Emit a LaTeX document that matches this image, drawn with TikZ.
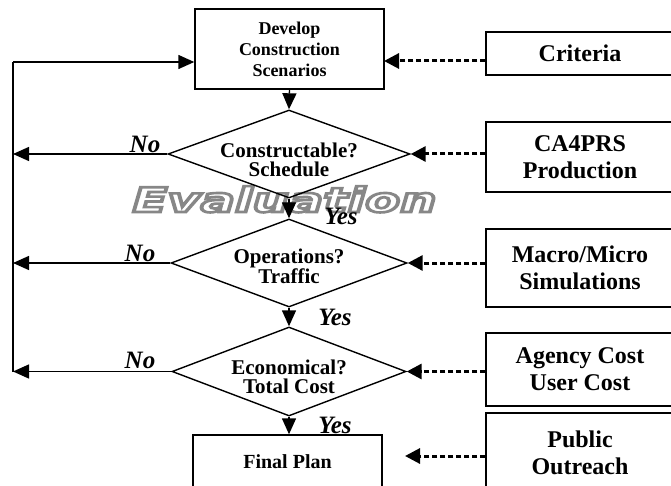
\documentclass[tikz,border=0pt]{standalone}
\usepackage{fontspec}
\setmainfont{Liberation Serif}
\newfontfamily\wmfont{DejaVu Sans}
\usetikzlibrary{shapes.geometric,arrows.meta,calc}
\newcommand{\outlinedtext}[1]{\special{pdf:literal direct 2 Tr 2.6 w 0.53 0.53 0.53 RG 1 1 1 rg}#1\special{pdf:literal direct 0 Tr 1 w 0 0 0 RG 0 0 0 rg}}
\begin{document}
\begin{tikzpicture}[x=1pt,y=-1pt,
  box/.style={draw, line width=1.4pt, inner sep=0pt, align=center, font=\bfseries},
  dia/.style={draw, diamond, line width=1.4pt, inner sep=0pt},
  diatext/.style={align=center, inner sep=0pt, font=\bfseries\fontsize{21}{19}\selectfont},
  sidebox/.style={box, minimum width=188pt, font=\bfseries\fontsize{24}{27}\selectfont},
  flow/.style={line width=1.4pt, -{Triangle[length=16pt,width=14pt]}},
  loopline/.style={line width=1.4pt},
  feed/.style={line width=3pt, dash pattern=on 5pt off 3pt, -{Triangle[length=15pt,width=15pt]}},
  answer/.style={anchor=base, inner sep=0pt, font=\bfseries\itshape\fontsize{25}{25}\selectfont},
  wm/.style={anchor=base, inner sep=0pt, font=\wmfont\bfseries\itshape\fontsize{34}{34}\selectfont}
]
\useasboundingbox (0,0) rectangle (671,486);
\clip (0,0) rectangle (671,486);

% watermark
\node[wm] (wm) at (284.5,212) {\scalebox{1.5}[1]{\outlinedtext{Evaluation}}};

% main column
\node[box, minimum width=189pt, minimum height=80pt, font=\bfseries\fontsize{18}{21}\selectfont]
  (top) at (289.5,49) {Develop\\Construction\\Scenarios};
\node[dia, minimum width=242pt, minimum height=88pt] (d1) at (289,154) {};
\node[diatext] (t1) at (289,160) {Constructable?\\Schedule};
\node[dia, minimum width=236pt, minimum height=88pt] (d2) at (289,263) {};
\node[diatext] (t2) at (289,266) {Operations?\\Traffic};
\node[dia, minimum width=234pt, minimum height=89pt] (d3) at (289,371.5) {};
\node[diatext] (t3) at (289,377) {Economical?\\Total Cost};
\node[box, minimum width=189pt, minimum height=54pt, font=\bfseries\fontsize{20}{22}\selectfont]
  (final) at (287.5,462) {Final Plan};

% side boxes
\node[sidebox, minimum height=43pt] (rc1) at (580,53.5) {Criteria};
\node[sidebox, minimum height=70pt] (rc2) at (580,157) {CA4PRS\\Production};
\node[sidebox, minimum height=78pt] (rc3) at (580,268) {Macro/Micro\\Simulations};
\node[sidebox, minimum height=73pt] (rc4) at (580,369.5) {Agency Cost\\User Cost};
\node[sidebox, minimum height=79pt] (rc5) at (580,452.5) {Public\\Outreach};

% flow arrows
\draw[flow] (top.south) -- (d1.north);
\draw[flow] (d1.south) -- (d2.north);
\draw[flow] (d2.south) -- (d3.north);
\draw[flow] (d3.south) -- (final.north -| d3.south);

% loop back
\coordinate (lt) at (13,62);
\coordinate (lb) at (13,372);
\draw[loopline] (lb) -- (lt);
\draw[flow] (lt) -- (lt -| top.west);
\draw[flow] (d1.west) -- (d1.west -| lt);
\draw[flow] (d2.west) -- (d2.west -| lt);
\draw[flow] (d3.west) -- (d3.west -| lt);

% feeds
\coordinate (crin) at (384,61);
\coordinate (fpin) at (405,456);
\draw[feed] (rc1.west |- crin) -- (crin);
\draw[feed] (rc2.west |- d1.east) -- (d1.east);
\draw[feed] (rc3.west |- d2.east) -- (d2.east);
\draw[feed] (rc4.west |- d3.east) -- (d3.east);
\draw[feed] (rc5.west |- fpin) -- (fpin);

% labels
\node[answer] (no1) at (145,153) {No};
\node[answer] (no2) at (140,261) {No};
\node[answer] (no3) at (140,368) {No};
\node[answer] (yes1) at (341,225) {Yes};
\node[answer] (yes2) at (335,325) {Yes};
\node[answer] (yes3) at (335,433) {Yes};
\end{tikzpicture}
\end{document}
